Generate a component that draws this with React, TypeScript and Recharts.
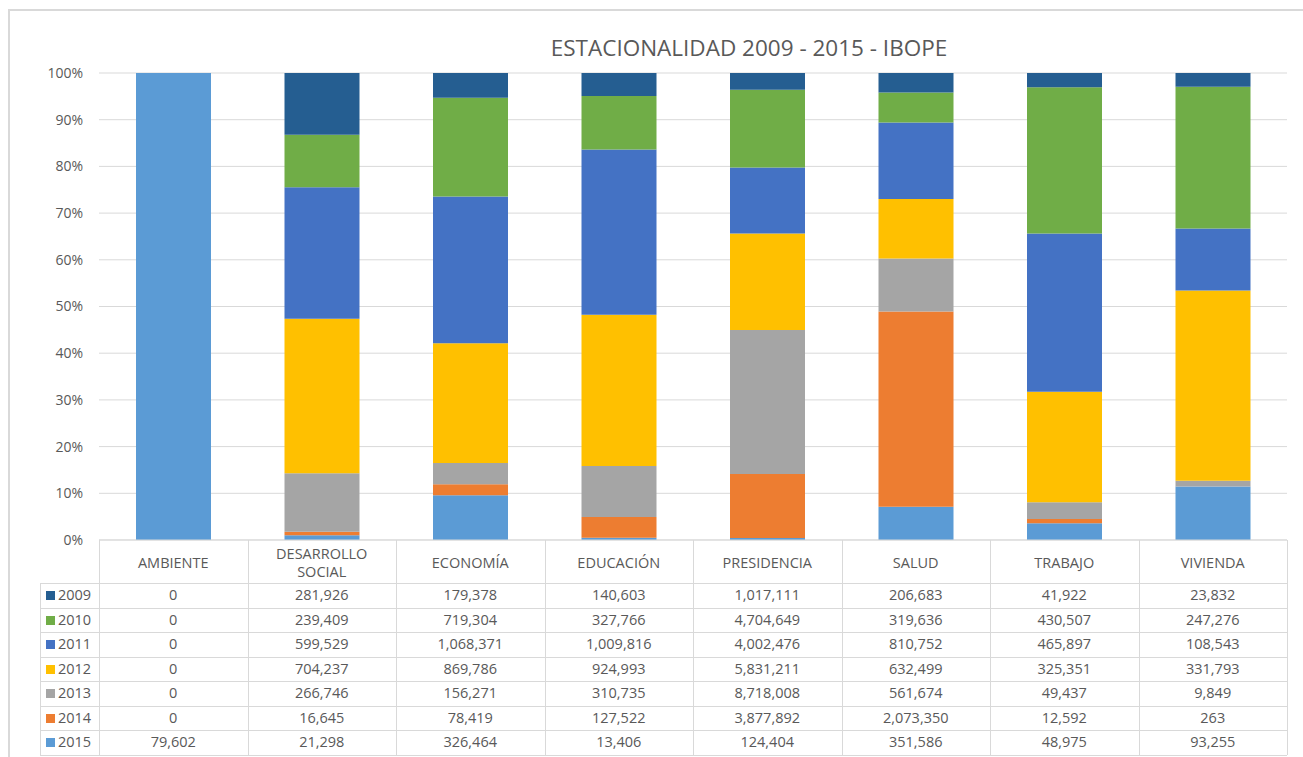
import React from 'react';
import { BarChart, Bar, XAxis, YAxis, CartesianGrid } from 'recharts';

const categories = ['AMBIENTE', 'DESARROLLO SOCIAL', 'ECONOMÍA', 'EDUCACIÓN', 'PRESIDENCIA', 'SALUD', 'TRABAJO', 'VIVIENDA'];
const years = ['2009', '2010', '2011', '2012', '2013', '2014', '2015'];
const s2009 = [0, 281926, 179378, 140603, 1017111, 206683, 41922, 23832];
const s2010 = [0, 239409, 719304, 327766, 4704649, 319636, 430507, 247276];
const s2011 = [0, 599529, 1068371, 1009816, 4002476, 810752, 465897, 108543];
const s2012 = [0, 704237, 869786, 924993, 5831211, 632499, 325351, 331793];
const s2013 = [0, 266746, 156271, 310735, 8718008, 561674, 49437, 9849];
const s2014 = [0, 16645, 78419, 127522, 3877892, 2073350, 12592, 263];
const s2015 = [79602, 21298, 326464, 13406, 124404, 351586, 48975, 93255];
const yTicks = [0, 0.1, 0.2, 0.3, 0.4, 0.5, 0.6, 0.7, 0.8, 0.9, 1];

const seriesValues: Record<string, number[]> = {
  '2009': s2009, '2010': s2010, '2011': s2011, '2012': s2012,
  '2013': s2013, '2014': s2014, '2015': s2015,
};
const colors: Record<string, string> = {
  '2009': '#255e91', '2010': '#70ad47', '2011': '#4472c4', '2012': '#ffc000',
  '2013': '#a5a5a5', '2014': '#ed7d31', '2015': '#5b9bd5',
};

const data = categories.map((name, i) => {
  const row: Record<string, any> = { name };
  years.forEach((y) => { row['y' + y] = seriesValues[y][i]; });
  return row;
});

const W = 1303;
const H = 757;
const PLOT_LEFT = 99;
const PLOT_RIGHT = 1287;
const PLOT_TOP = 73;
const PLOT_BOTTOM = 540;
const Y_AXIS_W = 60;
const X_AXIS_H = 43;
const COL_W = (PLOT_RIGHT - PLOT_LEFT) / categories.length;
const ROW_TOP = 583;
const ROW_H = 24.5;
const TABLE_LEFT = 40;
const FONT = '"Open Sans", sans-serif';
const TEXT = '#595959';
const LINE = '#d9d9d9';

const fmt = (v: number) => v.toLocaleString('en-US');

const CategoryTick = (props: any) => {
  const { x, payload } = props;
  const label: string = payload.value;
  const lines = label.length > 12 ? label.split(' ') : [label];
  const mid = PLOT_BOTTOM + 22;
  const lh = 18;
  const start = mid - ((lines.length - 1) * lh) / 2;
  return (
    <text x={x} textAnchor="middle" fill={TEXT} fontSize={14.5} fontFamily={FONT}>
      {lines.map((l, i) => (
        <tspan key={i} x={x} y={start + i * lh} dominantBaseline="central">{l}</tspan>
      ))}
    </text>
  );
};

export default function App() {
  const stackOrder = [...years].reverse(); // 2015 at bottom
  const hLines: React.ReactNode[] = [];
  const vLines: React.ReactNode[] = [];
  for (let r = 0; r <= years.length; r++) {
    hLines.push(
      <div key={'h' + r} style={{ position: 'absolute', left: TABLE_LEFT, top: ROW_TOP + r * ROW_H, width: PLOT_RIGHT - TABLE_LEFT, height: 1, background: LINE }} />
    );
  }
  for (let c = 0; c <= categories.length; c++) {
    vLines.push(
      <div key={'v' + c} style={{ position: 'absolute', left: PLOT_LEFT + c * COL_W, top: PLOT_BOTTOM, width: 1, height: ROW_TOP + years.length * ROW_H - PLOT_BOTTOM, background: LINE }} />
    );
  }
  return (
    <div style={{ position: 'fixed', left: 0, top: 0, width: W, height: H, background: '#fff', overflow: 'hidden' }}>
      <div style={{ position: 'absolute', left: 8, top: 9, width: W - 8, height: H - 9, borderTop: `2px solid ${LINE}`, borderLeft: `2px solid ${LINE}`, boxSizing: 'border-box' }} />
      <div style={{ position: 'absolute', left: 0, width: 1498, top: 33, textAlign: 'center', fontFamily: FONT, fontSize: 22.5, color: TEXT, lineHeight: '30px', whiteSpace: 'nowrap' }}>
        ESTACIONALIDAD 2009 - 2015 - IBOPE
      </div>
      <div style={{ position: 'absolute', left: 0, top: 0 }}>
        <BarChart
          width={W}
          height={H}
          data={data}
          stackOffset="expand"
          barSize={75}
          margin={{ top: PLOT_TOP, right: W - PLOT_RIGHT, left: PLOT_LEFT - Y_AXIS_W, bottom: H - PLOT_BOTTOM - X_AXIS_H }}
        >
          <CartesianGrid vertical={false} stroke={LINE} />
          <XAxis
            dataKey="name"
            interval={0}
            height={X_AXIS_H}
            tickLine={false}
            axisLine={{ stroke: LINE }}
            tick={<CategoryTick />}
          />
          <YAxis
            width={Y_AXIS_W}
            domain={[0, 1]}
            ticks={yTicks}
            tickFormatter={(v: number) => `${Math.round(v * 100)}%`}
            axisLine={false}
            tickLine={false}
            tick={{ fill: TEXT, fontSize: 14, fontFamily: FONT }}
            tickMargin={10}
          />
          {stackOrder.map((y) => (
            <Bar key={y} dataKey={'y' + y} name={y} stackId="a" fill={colors[y]} isAnimationActive={false} />
          ))}
        </BarChart>
      </div>
      {hLines}
      {vLines}
      {years.map((y, r) => (
        <React.Fragment key={y}>
          <div style={{ position: 'absolute', left: TABLE_LEFT, top: ROW_TOP + r * ROW_H, width: 1, height: ROW_H, background: LINE }} />
          <div style={{ position: 'absolute', left: 46, top: ROW_TOP + r * ROW_H + 8, width: 9, height: 9, background: colors[y] }} />
          <div style={{ position: 'absolute', left: 58, top: ROW_TOP + r * ROW_H, height: ROW_H, lineHeight: ROW_H + 'px', fontFamily: FONT, fontSize: 14.5, color: TEXT }}>{y}</div>
          {seriesValues[y].map((v, c) => (
            <div key={c} style={{ position: 'absolute', left: PLOT_LEFT + c * COL_W, top: ROW_TOP + r * ROW_H, width: COL_W, height: ROW_H, lineHeight: ROW_H + 'px', textAlign: 'center', fontFamily: FONT, fontSize: 14.5, color: TEXT }}>{fmt(v)}</div>
          ))}
        </React.Fragment>
      ))}
    </div>
  );
}
